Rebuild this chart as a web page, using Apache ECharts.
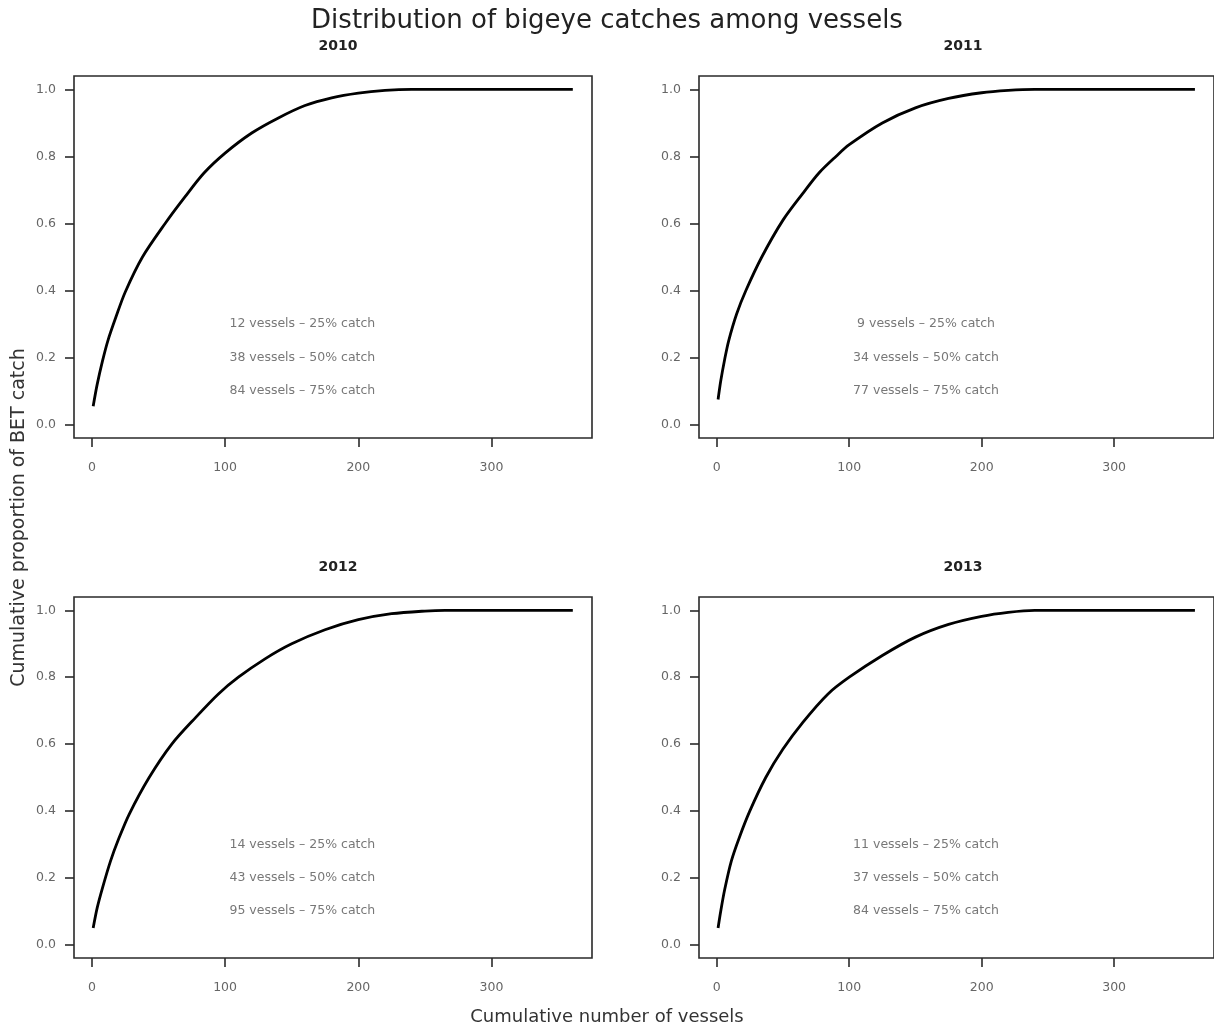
<!DOCTYPE html>
<html>
<head>
<meta charset="utf-8">
<script src="https://cdn.jsdelivr.net/npm/echarts@6/dist/echarts.min.js"></script>
<style>html,body{margin:0;padding:0;background:#fff;}#c{width:1214px;height:1035px;}</style>
</head>
<body>
<div id="c"></div>
<script>
// ---- data ----
const years = ['2010', '2011', '2012', '2013'];
const xTicks = [0, 100, 200, 300];
const yTicks = [0, 0.2, 0.4, 0.6, 0.8, 1.0];

const vessels2010 = [1, 4, 8, 12, 18, 25, 38, 55, 70, 84, 100, 120, 140, 160, 180, 200, 220, 240, 361];
const prop2010    = [0.055, 0.12, 0.19, 0.25, 0.32, 0.395, 0.50, 0.60, 0.68, 0.75, 0.81, 0.87, 0.915, 0.952, 0.975, 0.989, 0.997, 1.0, 1.0];

const vessels2011 = [1, 3, 6, 9, 15, 22, 34, 50, 65, 77, 90, 100, 125, 150, 175, 200, 220, 240, 361];
const prop2011    = [0.075, 0.13, 0.195, 0.25, 0.33, 0.40, 0.50, 0.61, 0.69, 0.75, 0.80, 0.835, 0.90, 0.945, 0.973, 0.99, 0.997, 1.0, 1.0];

const vessels2012 = [1, 4, 8, 14, 20, 28, 43, 60, 78, 95, 110, 130, 150, 175, 200, 225, 250, 265, 361];
const prop2012    = [0.05, 0.11, 0.17, 0.25, 0.315, 0.39, 0.50, 0.60, 0.68, 0.75, 0.80, 0.855, 0.90, 0.942, 0.972, 0.99, 0.998, 1.0, 1.0];

const vessels2013 = [1, 3, 6, 11, 17, 25, 37, 50, 65, 84, 100, 125, 150, 175, 200, 220, 240, 361];
const prop2013    = [0.05, 0.10, 0.165, 0.25, 0.32, 0.40, 0.50, 0.585, 0.665, 0.75, 0.80, 0.865, 0.92, 0.958, 0.982, 0.994, 1.0, 1.0];

const notes2010 = ['12 vessels \u2013 25% catch', '38 vessels \u2013 50% catch', '84 vessels \u2013 75% catch'];
const notes2011 = ['9 vessels \u2013 25% catch', '34 vessels \u2013 50% catch', '77 vessels \u2013 75% catch'];
const notes2012 = ['14 vessels \u2013 25% catch', '43 vessels \u2013 50% catch', '95 vessels \u2013 75% catch'];
const notes2013 = ['11 vessels \u2013 25% catch', '37 vessels \u2013 50% catch', '84 vessels \u2013 75% catch'];
const noteX = 158;
const noteY = [0.3, 0.2, 0.1];

const vesselsAll = [vessels2010, vessels2011, vessels2012, vessels2013];
const propAll = [prop2010, prop2011, prop2012, prop2013];
const notesAll = [notes2010, notes2011, notes2012, notes2013];

// ---- layout ----
const FONT = 'DejaVu Sans';
const grids = [
  {left: 74, top: 76, width: 518, height: 362},
  {left: 699, top: 76, width: 518, height: 362},
  {left: 74, top: 597, width: 518, height: 361},
  {left: 699, top: 597, width: 518, height: 361}
];

const option = {
  animation: false,
  backgroundColor: '#fff',
  title: [
    {text: 'Distribution of bigeye catches among vessels', left: 'center', top: 3,
     textStyle: {fontFamily: FONT, fontWeight: 'normal', fontSize: 26, color: '#222'}}
  ].concat(years.map((y, i) => ({
    text: y, left: grids[i].left + grids[i].width / 2, top: grids[i].top - 42, textAlign: 'center',
    textStyle: {fontFamily: FONT, fontWeight: 'bold', fontSize: 14, color: '#222'}
  }))),
  grid: grids.map(g => Object.assign({show: true, borderColor: '#2a2a2a', borderWidth: 1.6, backgroundColor: 'transparent'}, g)),
  xAxis: years.map((y, i) => ({
    type: 'value', gridIndex: i, min: -13.4, max: 375.4, position: 'bottom',
    axisLine: {show: false, onZero: false}, splitLine: {show: false},
    axisTick: {show: true, inside: false, length: 9, customValues: xTicks, lineStyle: {color: '#2a2a2a', width: 1.6}},
    axisLabel: {customValues: xTicks, margin: 23, fontFamily: FONT, fontSize: 12.5, color: '#666'}
  })),
  yAxis: years.map((y, i) => ({
    type: 'value', gridIndex: i, min: -0.04, max: 1.04, position: 'left',
    axisLine: {show: false, onZero: false}, splitLine: {show: false},
    axisTick: {show: true, inside: false, length: 9, customValues: yTicks, lineStyle: {color: '#2a2a2a', width: 1.6}},
    axisLabel: {customValues: yTicks, margin: 18, fontFamily: FONT, fontSize: 12.5, color: '#666',
                formatter: v => v.toFixed(1)}
  })),
  series: [],
  graphic: [
    {type: 'text', left: 'center', top: 1008,
     style: {text: 'Cumulative number of vessels', font: '18px "' + FONT + '"', fill: '#333'}},
    {type: 'text', left: 10, top: 'middle', rotation: Math.PI / 2, originX: 0, originY: 0,
     style: {text: 'Cumulative proportion of BET catch', font: '19px "' + FONT + '"', fill: '#333'}}
  ]
};

years.forEach((y, i) => {
  option.series.push({
    type: 'line', xAxisIndex: i, yAxisIndex: i, showSymbol: false, smooth: 0.3,
    lineStyle: {color: '#000', width: 2.8},
    data: vesselsAll[i].map((v, k) => [v, propAll[i][k]])
  });
  option.series.push({
    type: 'scatter', xAxisIndex: i, yAxisIndex: i, symbolSize: 0, silent: true,
    label: {show: true, position: 'inside', formatter: p => p.value[2],
            fontFamily: FONT, fontSize: 12.5, color: '#555'},
    data: notesAll[i].map((t, k) => [noteX, noteY[k], t])
  });
});

const chart = echarts.init(document.getElementById('c'), null, {renderer: 'canvas'});
chart.setOption(option);
</script>
</body>
</html>
